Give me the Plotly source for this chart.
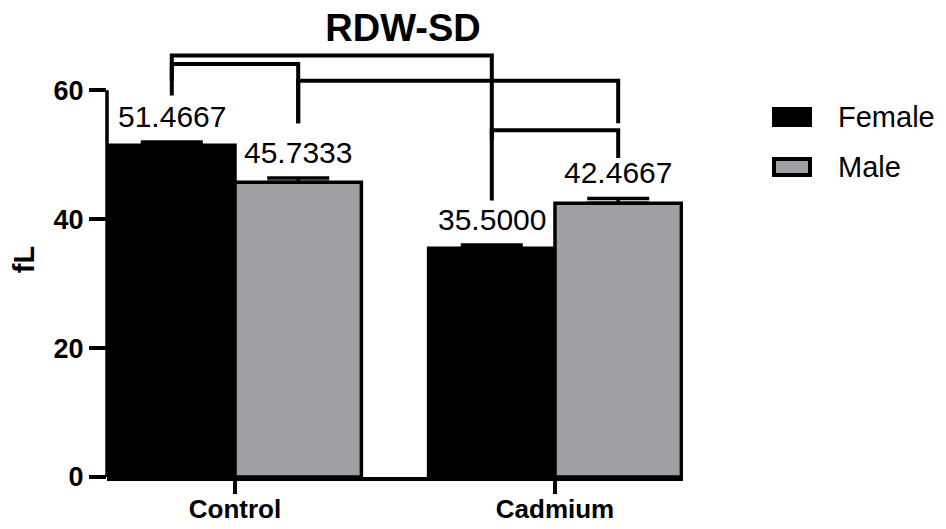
import plotly.graph_objects as go

# ---- data ----
CATEGORIES = ["Control", "Cadmium"]
SERIES = ["Female", "Male"]
FEMALE = [51.4667, 35.5000]
MALE = [45.7333, 42.4667]
FEMALE_ERR = [0.5, 0.5]
MALE_ERR = [0.65, 0.75]
FEMALE_LABELS = ["51.4667", "35.5000"]
MALE_LABELS = ["45.7333", "42.4667"]
Y_TICKS = [0, 20, 40, 60]
TITLE = "RDW-SD"
Y_TITLE = "fL"
# significance brackets: (group_a, series_a, group_b, series_b, top, bottom_a, bottom_b)
BRACKETS = [
    (0, 0, 1, 0, 65.4, 61.5, 52.2),
    (0, 0, 0, 1, 64.1, 59.2, 54.9),
    (0, 1, 1, 1, 61.5, 54.9, 54.9),
    (1, 0, 1, 1, 53.8, 42.9, 49.5),
]

# ---- style ----
PAGE_OFF = 8  # default body margin of the html page
PAGE_W, PAGE_H = 946, 529
W, H = PAGE_W - PAGE_OFF, PAGE_H - PAGE_OFF
PLOT_L, PLOT_R, PLOT_T, PLOT_B = 107, 683, 42, 477  # page pixels
M_L, M_R = PLOT_L - PAGE_OFF, PAGE_W - PLOT_R
M_T, M_B = PLOT_T - PAGE_OFF, PAGE_H - PLOT_B
PW, PH = W - M_L - M_R, H - M_T - M_B
BARGAP = 0.21
FONT = "Liberation Sans, Arial, sans-serif"
GRAY = "#A0A0A4"
LW = 3.5

GROUP_POS = list(range(len(CATEGORIES)))
OFFSET = (1 - BARGAP) / 4.0


def bar_x(g, s):
    return GROUP_POS[g] + (-OFFSET if s == 0 else OFFSET)


fig = go.Figure()
for name, vals, errs, color in [("Female", FEMALE, FEMALE_ERR, "black"),
                                ("Male", MALE, MALE_ERR, GRAY)]:
    fig.add_trace(go.Bar(
        x=GROUP_POS, y=vals, name=name,
        marker=dict(color=color, line=dict(color="black", width=LW)),
        error_y=dict(type="data", array=errs, arrayminus=[0] * len(errs),
                     symmetric=False, color="black", thickness=LW, width=31),
        showlegend=False,
    ))

annotations = []
for s, (vals, errs, labs) in enumerate([(FEMALE, FEMALE_ERR, FEMALE_LABELS),
                                        (MALE, MALE_ERR, MALE_LABELS)]):
    for g in range(len(CATEGORIES)):
        annotations.append(dict(
            x=bar_x(g, s), y=vals[g] + errs[g], xref="x", yref="y",
            text=labs[g], showarrow=False, yanchor="bottom", xanchor="center",
            yshift=7, font=dict(family=FONT, size=30, color="black")))

shapes = []
# y axis line (0..60 only)
shapes.append(dict(type="line", xref="paper", yref="y", x0=0, x1=0,
                   y0=0, y1=Y_TICKS[-1], line=dict(color="black", width=LW)))
for ga, sa, gb, sb, top, ba, bb in BRACKETS:
    xa, xb = bar_x(ga, sa), bar_x(gb, sb)
    shapes.append(dict(type="path", xref="x", yref="y",
                       path=f"M {xa},{ba} L {xa},{top} L {xb},{top} L {xb},{bb}",
                       line=dict(color="black", width=4)))


# custom legend (large swatches), positions given in page pixels
def px_x(px):
    return (px - PLOT_L) / PW


def px_y(py):
    return (PLOT_B - py) / PH


leg = [("Female", "black", 117), ("Male", GRAY, 167)]
for name, color, cy in leg:
    shapes.append(dict(type="rect", xref="paper", yref="paper",
                       x0=px_x(774), x1=px_x(810), y0=px_y(cy + 8), y1=px_y(cy - 8),
                       fillcolor=color, line=dict(color="black", width=4)))
    annotations.append(dict(x=px_x(836), y=px_y(cy), xref="paper", yref="paper",
                            text=name, showarrow=False, xanchor="left", yanchor="middle",
                            font=dict(family=FONT, size=29, color="black")))

fig.update_layout(
    width=W, height=H,
    margin=dict(l=M_L, r=M_R, t=M_T, b=M_B, autoexpand=False),
    paper_bgcolor="white", plot_bgcolor="white",
    barmode="group", bargap=BARGAP, bargroupgap=0,
    title=dict(text=f"<b>{TITLE}</b>", x=(403 - PAGE_OFF) / W, xanchor="center",
               y=1 - (27.5 - PAGE_OFF) / H, yanchor="middle",
               font=dict(family=FONT, size=38, color="black")),
    xaxis=dict(range=[-0.4, 1.4], tickmode="array", tickvals=GROUP_POS,
               ticktext=[f"<b>{c}</b>" for c in CATEGORIES],
               showline=True, linecolor="black", linewidth=LW,
               ticks="outside", ticklen=13, tickwidth=LW, tickcolor="black",
               ticklabelstandoff=-7,
               showgrid=False, zeroline=False, automargin=False,
               tickfont=dict(family=FONT, size=26, color="black")),
    yaxis=dict(range=[0, 67.5], tickmode="array", tickvals=Y_TICKS,
               ticktext=[f"<b>{t}</b>" for t in Y_TICKS],
               showline=False, ticks="outside", ticklen=17, tickwidth=LW,
               tickcolor="black", showgrid=False, zeroline=False, automargin=False,
               tickfont=dict(family=FONT, size=27, color="black"),
               title=dict(text=f"<b>{Y_TITLE}</b>", standoff=16,
                          font=dict(family=FONT, size=29, color="black"))),
    annotations=annotations,
    shapes=shapes,
)

fig.write_html("out.html")
